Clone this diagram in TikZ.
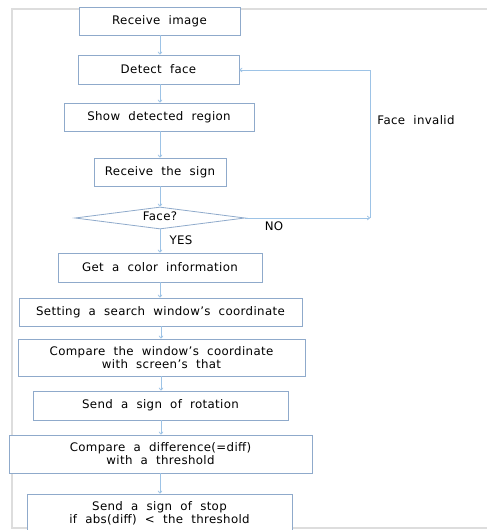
\documentclass[tikz,border=0pt]{standalone}
\usepackage{fontspec}
\setmainfont{DejaVu Sans}[LetterSpace=3,WordSpace=2]
\usetikzlibrary{shapes.geometric,arrows.meta}
\definecolor{boxc}{HTML}{8FAACB}
\definecolor{arrc}{HTML}{9DC3E6}
\definecolor{framec}{HTML}{DDDDDD}
\begin{document}
\begin{tikzpicture}[x=1pt,y=-1pt,
  font=\fontsize{11.8}{13}\selectfont,
  box/.style={draw=boxc,line width=0.8pt,fill=white,minimum width=#1,minimum height=28pt,inner sep=0pt,align=center},
  dia/.style={draw=boxc,line width=0.8pt,fill=white,diamond,aspect=7.7,minimum width=170pt,minimum height=22pt,inner sep=0pt},
  conn/.style={draw=arrc,line width=0.8pt,-{To[length=3pt,width=4.5pt]}},
  lab/.style={inner sep=0pt}]
\useasboundingbox (0,0) rectangle (487,530);
\draw[framec,line width=1.5pt] (487,9) -- (12,9) -- (12,528) -- (487,528);
\node[box=161pt] (recv) at (159.5,21) {Receive image};
\node[box=161pt,minimum height=29pt] (det) at (158.5,69.5) {Detect face};
\node[box=190pt] (show) at (159,117) {Show detected region};
\node[box=132pt] (sign) at (160,172) {Receive the sign};
\node[dia] (face) at (160,218) {};
\node[lab] at (160,216) {Face?};
\node[box=204pt,minimum height=29pt] (color) at (160,267.5) {Get a color information};
\node[box=283pt] (set) at (160.5,312) {Setting a search window's coordinate};
\node[box=287pt,minimum height=37pt] (cmpw) at (161.5,357.5) {Compare the window's coordinate\\with screen's that};
\node[box=255pt,minimum height=29pt] (rot) at (160.5,405.5) {Send a sign of rotation};
\node[box=303pt,minimum height=38pt] (diff) at (160.5,454) {Compare a difference(=diff)\\with a threshold};
\node[box=265pt,minimum height=38pt] (stop) at (159.5,513) {Send a sign of stop\\if abs(diff) < the threshold};
\coordinate (loopc) at (370,218);
\coordinate (loopt) at (370,70);
\draw[conn] (recv.south -| 160,0) -- (det.north -| 160,0);
\draw[conn] (det.south -| 160,0) -- (show.north -| 160,0);
\draw[conn] (show.south -| 160,0) -- (sign.north -| 160,0);
\draw[conn] (sign.south) -- (face.north);
\draw[conn] (face.south) -- (color.north);
\draw[conn] (color.south -| 160,0) -- (set.north -| 160,0);
\draw[conn] (set.south -| 161,0) -- (cmpw.north -| 161,0);
\draw[conn] (cmpw.south -| 161,0) -- (rot.north -| 161,0);
\draw[conn] (rot.south -| 161,0) -- (diff.north -| 161,0);
\draw[conn] (diff.south -| 160,0) -- (stop.north -| 160,0);
\draw[conn] (face.east) -- (loopc);
\draw[conn] (loopc) -- (loopt) -- (det.east |- loopt);
\node[lab] at (416,120) {Face invalid};
\node[lab] at (274,226) {NO};
\node[lab] at (181,240) {YES};
\end{tikzpicture}
\end{document}
